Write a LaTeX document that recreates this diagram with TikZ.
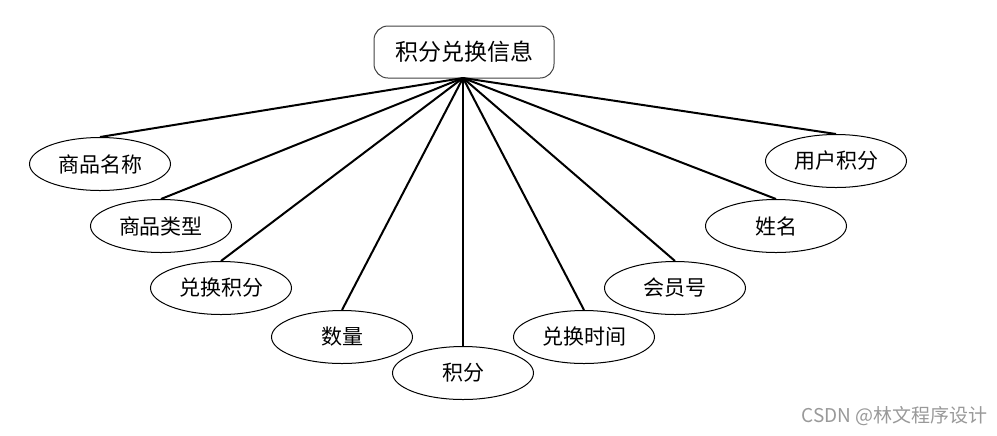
\documentclass[tikz,border=0pt]{standalone}
\usepackage{fontspec}
\setmainfont{Noto Sans CJK SC}
\usetikzlibrary{shapes.geometric}

\begin{document}
\begin{tikzpicture}[x=0.5pt, y=-0.5pt,
    attr/.style={ellipse, draw, line width=0.5pt, minimum width=70.5pt,
        minimum height=26.5pt, inner sep=0pt, font=\fontsize{10.5}{12}\selectfont},
    link/.style={line width=1pt}]
    \useasboundingbox (0,0) rectangle (997,435);

    % 実体
    \node[draw=black!75, line width=0.5pt, rounded corners=7pt, minimum width=90pt,
        minimum height=26pt, font=\fontsize{11.5}{13}\selectfont] (E) at (464,52) {积分兑换信息};
    \coordinate (C) at (463,78);

    % -------------------------------------------------------------
    % 属性（左から右へ）
    % -------------------------------------------------------------
    \node[attr] (A1) at (100,164) {商品名称};
    \node[attr] (A2) at (161,226) {商品类型};
    \node[attr] (A3) at (221,288) {兑换积分};
    \node[attr] (A4) at (342,337) {数量};
    \node[attr] (A5) at (463,373) {积分};
    \node[attr] (A6) at (584,337) {兑换时间};
    \node[attr] (A7) at (675,288) {会员号};
    \node[attr] (A8) at (776,226) {姓名};
    \node[attr] (A9) at (836,161) {用户积分};

    % 接続線
    \foreach \i in {1,...,9}
        \draw[link] (C) -- (A\i.north);

    % 透かし
    \node[anchor=east, text=black!40, font=\fontsize{9.5}{11}\selectfont] (wm) at (995,416) {CSDN @林文程序设计};

\end{tikzpicture}
\end{document}
